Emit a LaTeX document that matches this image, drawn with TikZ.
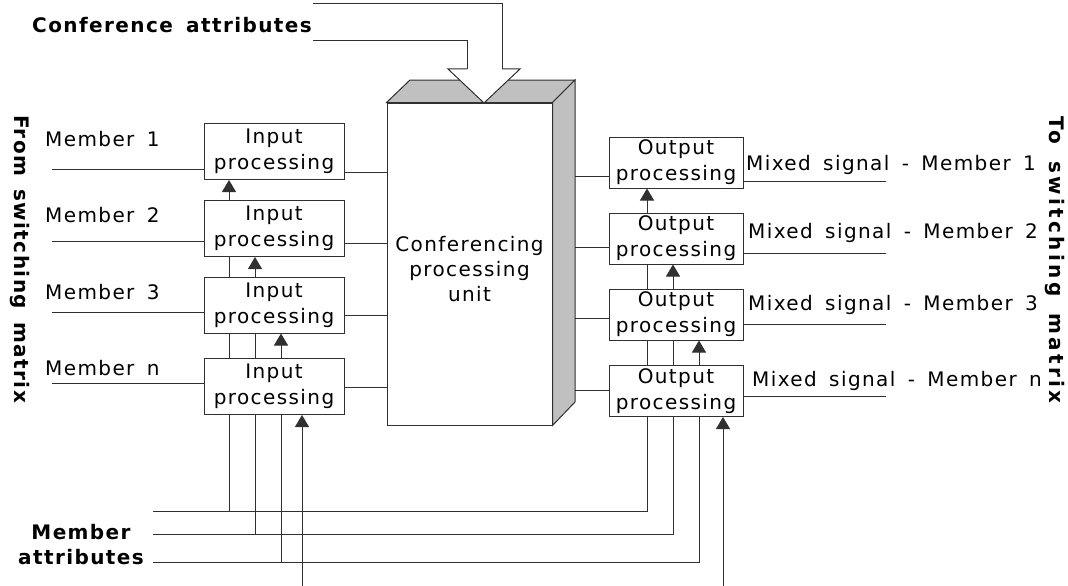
\documentclass[tikz,border=0pt]{standalone}
\usepackage{fontspec}
\setmainfont{DejaVu Sans}[LetterSpace=7, WordSpace=1.6]
\usetikzlibrary{arrows.meta}
\definecolor{facegray}{HTML}{C0C0C0}
\definecolor{ink}{HTML}{303030}
\begin{document}
\begin{tikzpicture}[x=1pt,y=-1pt,
  wire/.style={draw=ink, line width=1pt},
  flow/.style={wire, -{Triangle[width=14pt,length=12pt]}},
  inbox/.style={draw=ink, line width=1pt, fill=white, minimum width=140pt,
    minimum height=56pt, inner sep=0pt, align=center,
    font=\fontsize{20}{26}\selectfont},
  outbox/.style={inbox, minimum width=134pt, minimum height=51pt},
  txt/.style={inner sep=0pt, font=\fontsize{20}{25}\selectfont, anchor=base west},
  head/.style={inner sep=0pt, font=\fontsize{20}{25}\selectfont\bfseries, align=center},
]
\useasboundingbox (0,0) rectangle (1068,586);

% conferencing processing unit (front face, top and side faces)
\node[draw=ink, line width=1pt, fill=white, minimum width=165pt,
      minimum height=322pt, inner sep=0pt] (cpu) at (469.5,264) {};
\coordinate (tb1) at (410,80);
\coordinate (tb2) at (575,80);
\coordinate (rb) at (575,402);
\draw[wire, fill=facegray] (cpu.north west) -- (tb1) -- (tb2) -- (cpu.north east) -- cycle;
\draw[wire, fill=facegray] (cpu.north east) -- (tb2) -- (rb) -- (cpu.south east) -- cycle;
\node[inner sep=0pt, align=center, font=\fontsize{20}{25}\selectfont] (cputext)
  at ([yshift=-5pt]cpu.center) {Conferencing\\processing\\unit};

% conference attributes and the hollow arrow into the unit
\node[head] (confattr) at (172,25) {Conference attributes};
\coordinate (a1) at (313,4);
\coordinate (a2) at (313,41);
\coordinate (sl) at (467,69);
\coordinate (sr) at (502,69);
\coordinate (hl) at (448,69);
\coordinate (hr) at (520,69);
\coordinate (tip) at (484,103);
\filldraw[wire, fill=white] (sl) -- (hl) -- (tip) -- (hr) -- (sr);
\draw[wire] (a1) -- (sr |- a1) -- (sr);
\draw[wire] (a2) -- (sl |- a2) -- (sl);

% input processing blocks
\node[inbox] (in1) at (274,151.5) {Input\\processing};
\node[inbox] (in2) at (274,228.5) {Input\\processing};
\node[inbox] (in3) at (274,305) {Input\\processing};
\node[inbox] (in4) at (274,386.5) {Input\\processing};

% output processing blocks
\node[outbox] (out1) at (676,162.5) {Output\\processing};
\node[outbox] (out2) at (676,238.5) {Output\\processing};
\node[outbox] (out3) at (676,314.5) {Output\\processing};
\node[outbox] (out4) at (676,391) {Output\\processing};

% member labels
\node[txt] (lm1) at (45,146) {Member 1};
\node[txt] (lm2) at (45,222) {Member 2};
\node[txt] (lm3) at (45,299) {Member 3};
\node[txt] (lm4) at (45,375) {Member n};

\node[txt] (lo1) at (746,170) {Mixed signal - Member 1};
\node[txt] (lo2) at (748,238) {Mixed signal - Member 2};
\node[txt] (lo3) at (748,310) {Mixed signal - Member 3};
\node[txt] (lo4) at (752,386) {Mixed signal - Member n};

\node[head, rotate=-90] (fromsw) at (20,259) {From switching matrix};
\node[head, rotate=-90, font=\fontsize{20}{25}\selectfont\bfseries\addfontfeatures{LetterSpace=17}]
  (tosw) at (1055,260) {To switching matrix};
\node[head] (memattr) at (81,545) {Member\\attributes};

% member inputs
\coordinate (m1) at (52,169);
\coordinate (m2) at (52,241);
\coordinate (m3) at (52,312);
\coordinate (m4) at (52,383);
\foreach \i in {1,...,4} \draw[wire] (m\i) -- (m\i -| in\i.west);

% input blocks to the unit
\coordinate (cl1) at (387,172);
\coordinate (cl2) at (387,243);
\coordinate (cl3) at (387,315);
\coordinate (cl4) at (387,387);
\foreach \i in {1,...,4} \draw[wire] (cl\i -| in\i.east) -- (cl\i);

% unit to output blocks
\coordinate (cr1) at (575,176);
\coordinate (cr2) at (575,247);
\coordinate (cr3) at (575,318);
\coordinate (cr4) at (575,390);
\foreach \i in {1,...,4} \draw[wire] (cr\i) -- (cr\i -| out\i.west);

% mixed signal outputs
\coordinate (ol1) at (886,181);
\coordinate (ol2) at (886,253);
\coordinate (ol3) at (886,324);
\coordinate (ol4) at (886,396);
\foreach \i in {1,...,4} \draw[wire] (ol\i -| out\i.east) -- (ol\i);

% attribute columns
\coordinate (ca) at (229,0);
\coordinate (cb) at (255,0);
\coordinate (cc) at (281,0);
\coordinate (cd) at (302,0);
\coordinate (oa) at (647,0);
\coordinate (ob) at (673,0);
\coordinate (oc) at (699,0);
\coordinate (od) at (723,0);
\coordinate (r1) at (153,511);
\coordinate (r2) at (153,534);
\coordinate (r3) at (153,562);
\coordinate (edge) at (0,586);

\draw[flow] (ca |- in2.north) -- (ca |- in1.south);
\draw[wire] (ca |- in3.north) -- (ca |- in2.south);
\draw[flow] (cb |- in3.north) -- (cb |- in2.south);
\draw[wire] (ca |- in4.north) -- (ca |- in3.south);
\draw[wire] (cb |- in4.north) -- (cb |- in3.south);
\draw[flow] (cc |- in4.north) -- (cc |- in3.south);

\draw[flow] (oa |- out2.north) -- (oa |- out1.south);
\draw[wire] (oa |- out3.north) -- (oa |- out2.south);
\draw[flow] (ob |- out3.north) -- (ob |- out2.south);
\draw[wire] (oa |- out4.north) -- (oa |- out3.south);
\draw[wire] (ob |- out4.north) -- (ob |- out3.south);
\draw[flow] (oc |- out4.north) -- (oc |- out3.south);

\draw[wire] (ca |- in4.south) -- (ca |- r1);
\draw[wire] (cb |- in4.south) -- (cb |- r2);
\draw[wire] (cc |- in4.south) -- (cc |- r3);
\draw[flow] (cd |- edge) -- (cd |- in4.south);
\draw[wire] (r1) -- (oa |- r1) -- (oa |- out4.south);
\draw[wire] (r2) -- (ob |- r2) -- (ob |- out4.south);
\draw[wire] (r3) -- (oc |- r3) -- (oc |- out4.south);
\draw[flow] (od |- edge) -- (od |- out4.south);
\end{tikzpicture}
\end{document}
